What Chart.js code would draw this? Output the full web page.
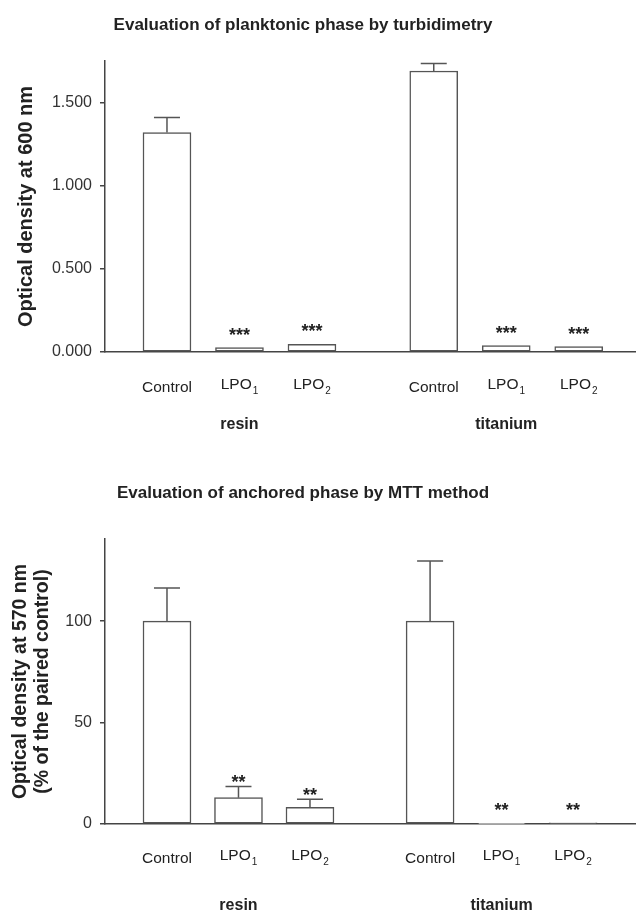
<!DOCTYPE html>
<html>
<head>
<meta charset="utf-8">
<script src="https://cdn.jsdelivr.net/npm/chart.js@4.4.1/dist/chart.umd.min.js"></script>
<style>
  body { margin: 0; background: #fff; }
  .box { position: absolute; left: 0; width: 636px; }
  #top { top: 0; height: 460px; }
  #bottom { top: 460px; height: 457px; }
</style>
</head>
<body>
<div class="box" id="top"><canvas id="planktonic"></canvas></div>
<div class="box" id="bottom"><canvas id="anchored"></canvas></div>
<script>
// data
const groups = ['resin', 'titanium'];
const treatments = ['Control', 'LPO', 'LPO'];
const treatmentSubs = ['', '1', '2'];

const planktonicMeans = [1.32, 0.026, 0.046, 1.69, 0.038, 0.032];
const planktonicErr = [0.09, 0, 0, 0.045, 0, 0];
const planktonicStars = ['', '***', '***', '', '***', '***'];
const planktonicTicks = [0, 0.5, 1.0, 1.5];

const anchoredMeans = [100, 13, 8.2, 100, 0.3, 0.6];
const anchoredErr = [16.3, 5.5, 4, 29.7, 0, 0];
const anchoredStars = ['', '**', '**', '', '**', '**'];
const anchoredTicks = [0, 50, 100];

const GROUP_GAP = 3.68;
const FONT = 'Arial, "Liberation Sans", sans-serif';
const INK = '#222';
const LINE = '#555';

function xPos(k) {
  const g = Math.floor(k / treatments.length);
  const i = k % treatments.length;
  return i + g * GROUP_GAP;
}

// error bars, stars, labels and titles
const decorations = {
  id: 'decorations',
  afterDatasetsDraw(chart, args, opts) {
    const ctx = chart.ctx;
    const x = chart.scales.x, y = chart.scales.y;
    const area = chart.chartArea;
    ctx.save();

    opts.means.forEach(function (m, k) {
      const px = x.getPixelForValue(xPos(k));
      const top = y.getPixelForValue(m);
      let mark = top, shift = -7;
      if (opts.errors[k] > 0) {
        const et = y.getPixelForValue(m + opts.errors[k]);
        ctx.strokeStyle = LINE;
        ctx.lineWidth = 1.5;
        ctx.beginPath();
        ctx.moveTo(px, top);
        ctx.lineTo(px, et);
        ctx.moveTo(px - 13, et);
        ctx.lineTo(px + 13, et);
        ctx.stroke();
        mark = et;
        shift = 2;
      }
      if (opts.stars[k]) {
        ctx.fillStyle = INK;
        ctx.font = 'bold 18px ' + FONT;
        ctx.textAlign = 'center';
        ctx.textBaseline = 'alphabetic';
        ctx.fillText(opts.stars[k], px, mark + shift);
      }
    });

    // category labels with subscripts
    ctx.fillStyle = INK;
    ctx.textBaseline = 'middle';
    for (let k = 0; k < groups.length * treatments.length; k++) {
      const i = k % treatments.length;
      const px = x.getPixelForValue(xPos(k));
      const main = treatments[i], sub = treatmentSubs[i];
      ctx.font = '15.5px ' + FONT;
      const wMain = ctx.measureText(main).width;
      ctx.font = '10px ' + FONT;
      const wSub = sub ? ctx.measureText(sub).width + 1 : 0;
      const left = px - (wMain + wSub) / 2;
      ctx.textAlign = 'left';
      ctx.font = '15.5px ' + FONT;
      ctx.fillText(main, left, opts.tickY + (sub ? -3 : 0));
      if (sub) {
        ctx.font = '10px ' + FONT;
        ctx.fillText(sub, left + wMain + 1, opts.tickY + 3);
      }
    }

    // group labels
    ctx.font = 'bold 16px ' + FONT;
    ctx.textAlign = 'center';
    groups.forEach(function (g, gi) {
      const px = x.getPixelForValue(xPos(gi * treatments.length + 1));
      ctx.fillText(g, px, opts.groupY);
    });

    // chart title
    ctx.font = 'bold 17px ' + FONT;
    ctx.fillText(opts.title, 303, opts.titleY);

    // y axis title
    ctx.translate(0, (area.top + area.bottom) / 2);
    ctx.rotate(-Math.PI / 2);
    ctx.font = 'bold ' + opts.yTitleSize + 'px ' + FONT;
    opts.yTitle.forEach(function (line, li) {
      ctx.fillText(line, 0, opts.yTitleX[li]);
    });
    ctx.restore();
  }
};

function makeChart(id, means, maxY, ticks, digits, xRange, pad, extra) {
  return new Chart(document.getElementById(id), {
    type: 'bar',
    data: {
      datasets: [{
        data: means.map(function (m, k) { return { x: xPos(k), y: m }; }),
        backgroundColor: '#fff',
        borderColor: LINE,
        borderWidth: 1.5,
        borderSkipped: false,
        barThickness: 48
      }]
    },
    options: {
      responsive: true,
      maintainAspectRatio: false,
      animation: false,
      layout: { padding: pad },
      plugins: {
        legend: { display: false },
        tooltip: { enabled: false },
        decorations: extra
      },
      scales: {
        x: {
          type: 'linear',
          offset: false,
          min: xRange[0],
          max: xRange[1],
          grid: { display: false, drawTicks: false },
          border: { display: true, color: '#444', width: 1.5 },
          ticks: { display: false },
          afterFit: function (s) { s.height = 0; }
        },
        y: {
          min: 0,
          max: maxY,
          afterBuildTicks: function (s) {
            s.ticks = ticks.map(function (v) { return { value: v }; });
          },
          afterFit: function (s) { s.width = 105; },
          grid: { display: true, drawOnChartArea: false, drawTicks: true, tickLength: 5, color: '#444', lineWidth: 1.5 },
          border: { display: true, color: '#444', width: 1.5 },
          ticks: {
            padding: 8,
            color: '#333',
            font: { family: FONT, size: 16 },
            callback: function (v) { return v.toFixed(digits); }
          }
        }
      }
    },
    plugins: [decorations]
  });
}

makeChart('planktonic', planktonicMeans, 1.75, planktonicTicks, 3, [-0.855, 6.47],
  { left: 0, right: 0, top: 61, bottom: 108 },
  {
    means: planktonicMeans, errors: planktonicErr, stars: planktonicStars,
    tickY: 388, groupY: 425, title: 'Evaluation of planktonic phase by turbidimetry', titleY: 25,
    yTitle: ['Optical density at 600 nm'], yTitleX: [26], yTitleSize: 20
  });

makeChart('anchored', anchoredMeans, 140.5, anchoredTicks, 0, [-0.867, 6.56],
  { left: 0, right: 0, top: 79, bottom: 93 },
  {
    means: anchoredMeans, errors: anchoredErr, stars: anchoredStars,
    tickY: 399, groupY: 446, title: 'Evaluation of anchored phase by MTT method', titleY: 33,
    yTitle: ['Optical density at 570 nm', '(% of the paired control)'], yTitleX: [21, 43], yTitleSize: 19.5
  });
</script>
</body>
</html>
